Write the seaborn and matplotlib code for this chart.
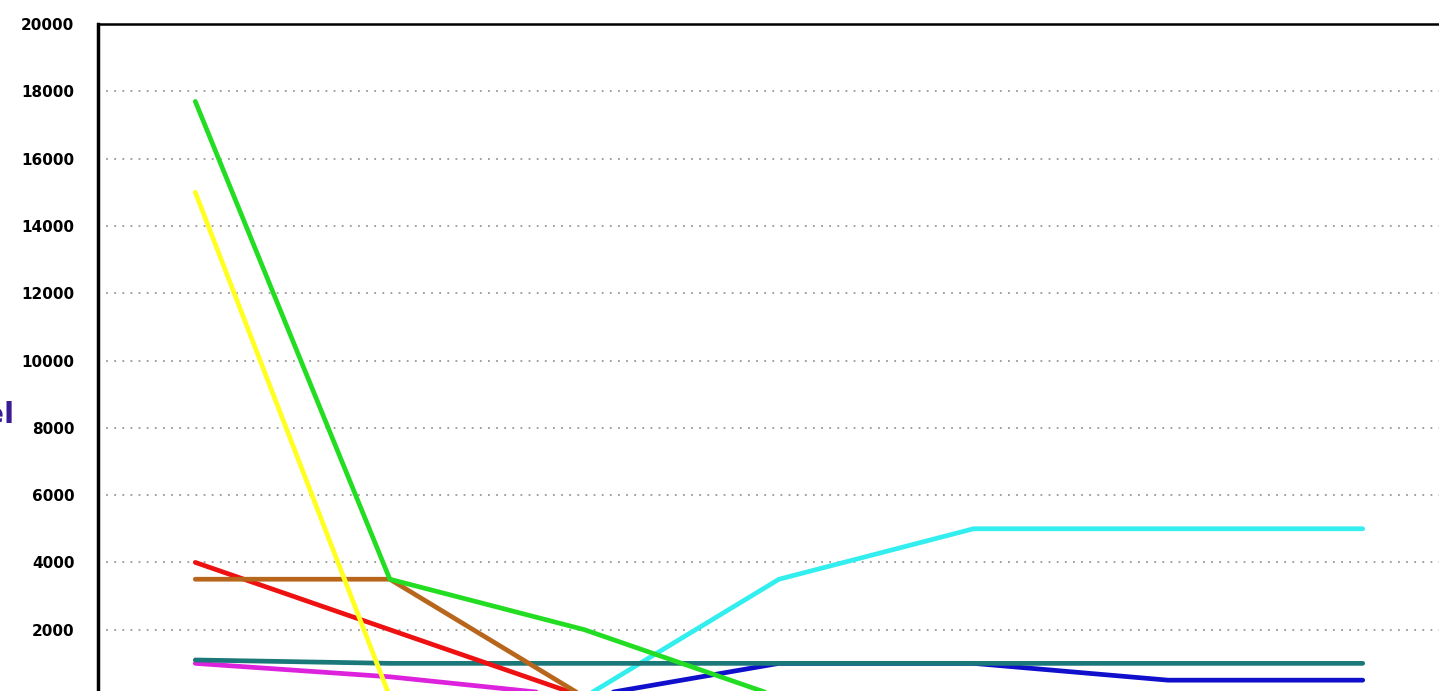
import numpy as np
import pandas as pd
import seaborn as sns
import matplotlib.pyplot as plt

# ----- Data -----
steps = [0, 1, 2, 3, 4, 5, 6]
green = [17700, 3500, 2000, 0, 0, 0, 0]
yellow = [15000, 0, 0, 0, 0, 0, 0]
red = [4000, 2000, 0, 0, 0, 0, 0]
brown = [3500, 3500, 0, 0, 0, 0, 0]
teal = [1100, 1000, 1000, 1000, 1000, 1000, 1000]
magenta = [1000, 600, 0, 0, 0, 0, 0]
cyan = [np.nan, np.nan, 0, 3500, 5000, 5000, 5000]
blue = [np.nan, np.nan, 0, 1000, 1000, 500, 500]

series = {
    "magenta": magenta,
    "blue": blue,
    "cyan": cyan,
    "teal": teal,
    "red": red,
    "brown": brown,
    "yellow": yellow,
    "green": green,
}
colors = {
    "magenta": "#dd22dd",
    "blue": "#1010cc",
    "cyan": "#33eeee",
    "teal": "#1a7878",
    "red": "#ee1111",
    "brown": "#b8661c",
    "yellow": "#ffff22",
    "green": "#22dd22",
}

rows = []
for name, vals in series.items():
    for s, v in zip(steps, vals):
        rows.append({"step": s, "value": v, "series": name})
df = pd.DataFrame(rows)

# ----- Plot -----
sns.set_style("white")
fig = plt.figure(figsize=(14.39, 6.91), dpi=100)
# axes run past the bottom/right edge, the reference is a crop
ax = fig.add_axes([98 / 1439, 1 - 697 / 691, (1460 - 98) / 1439, (697 - 24) / 691])

sns.lineplot(data=df, x="step", y="value", hue="series", palette=colors,
             linewidth=3.4, legend=False, ax=ax)

ax.set_xlim(-0.5, 6.5)
ax.set_ylim(0, 20000)
ax.set_yticks(range(0, 20001, 2000))
ax.set_xticks([])
ax.set_xlabel("")
ax.set_ylabel("")

for y in range(2000, 20000, 2000):
    ax.axhline(y, color="#999999", linestyle=(0, (1, 3.5)), linewidth=1.3, zorder=0)

for side in ["right", "bottom"]:
    ax.spines[side].set_visible(False)
ax.spines["left"].set_linewidth(2.5)
ax.spines["top"].set_linewidth(1.8)
ax.spines["left"].set_color("black")
ax.spines["top"].set_color("black")

ax.tick_params(axis="y", length=5, width=2, direction="out", pad=12,
               labelsize=11, colors="black")
for lbl in ax.get_yticklabels():
    lbl.set_fontweight("bold")

fig.text(14 / 1439, 1 - 415 / 691, "Level", ha="right", va="center",
         fontsize=21, fontweight="bold", color="#3b1c94")

fig.savefig("out.png", dpi=100)
